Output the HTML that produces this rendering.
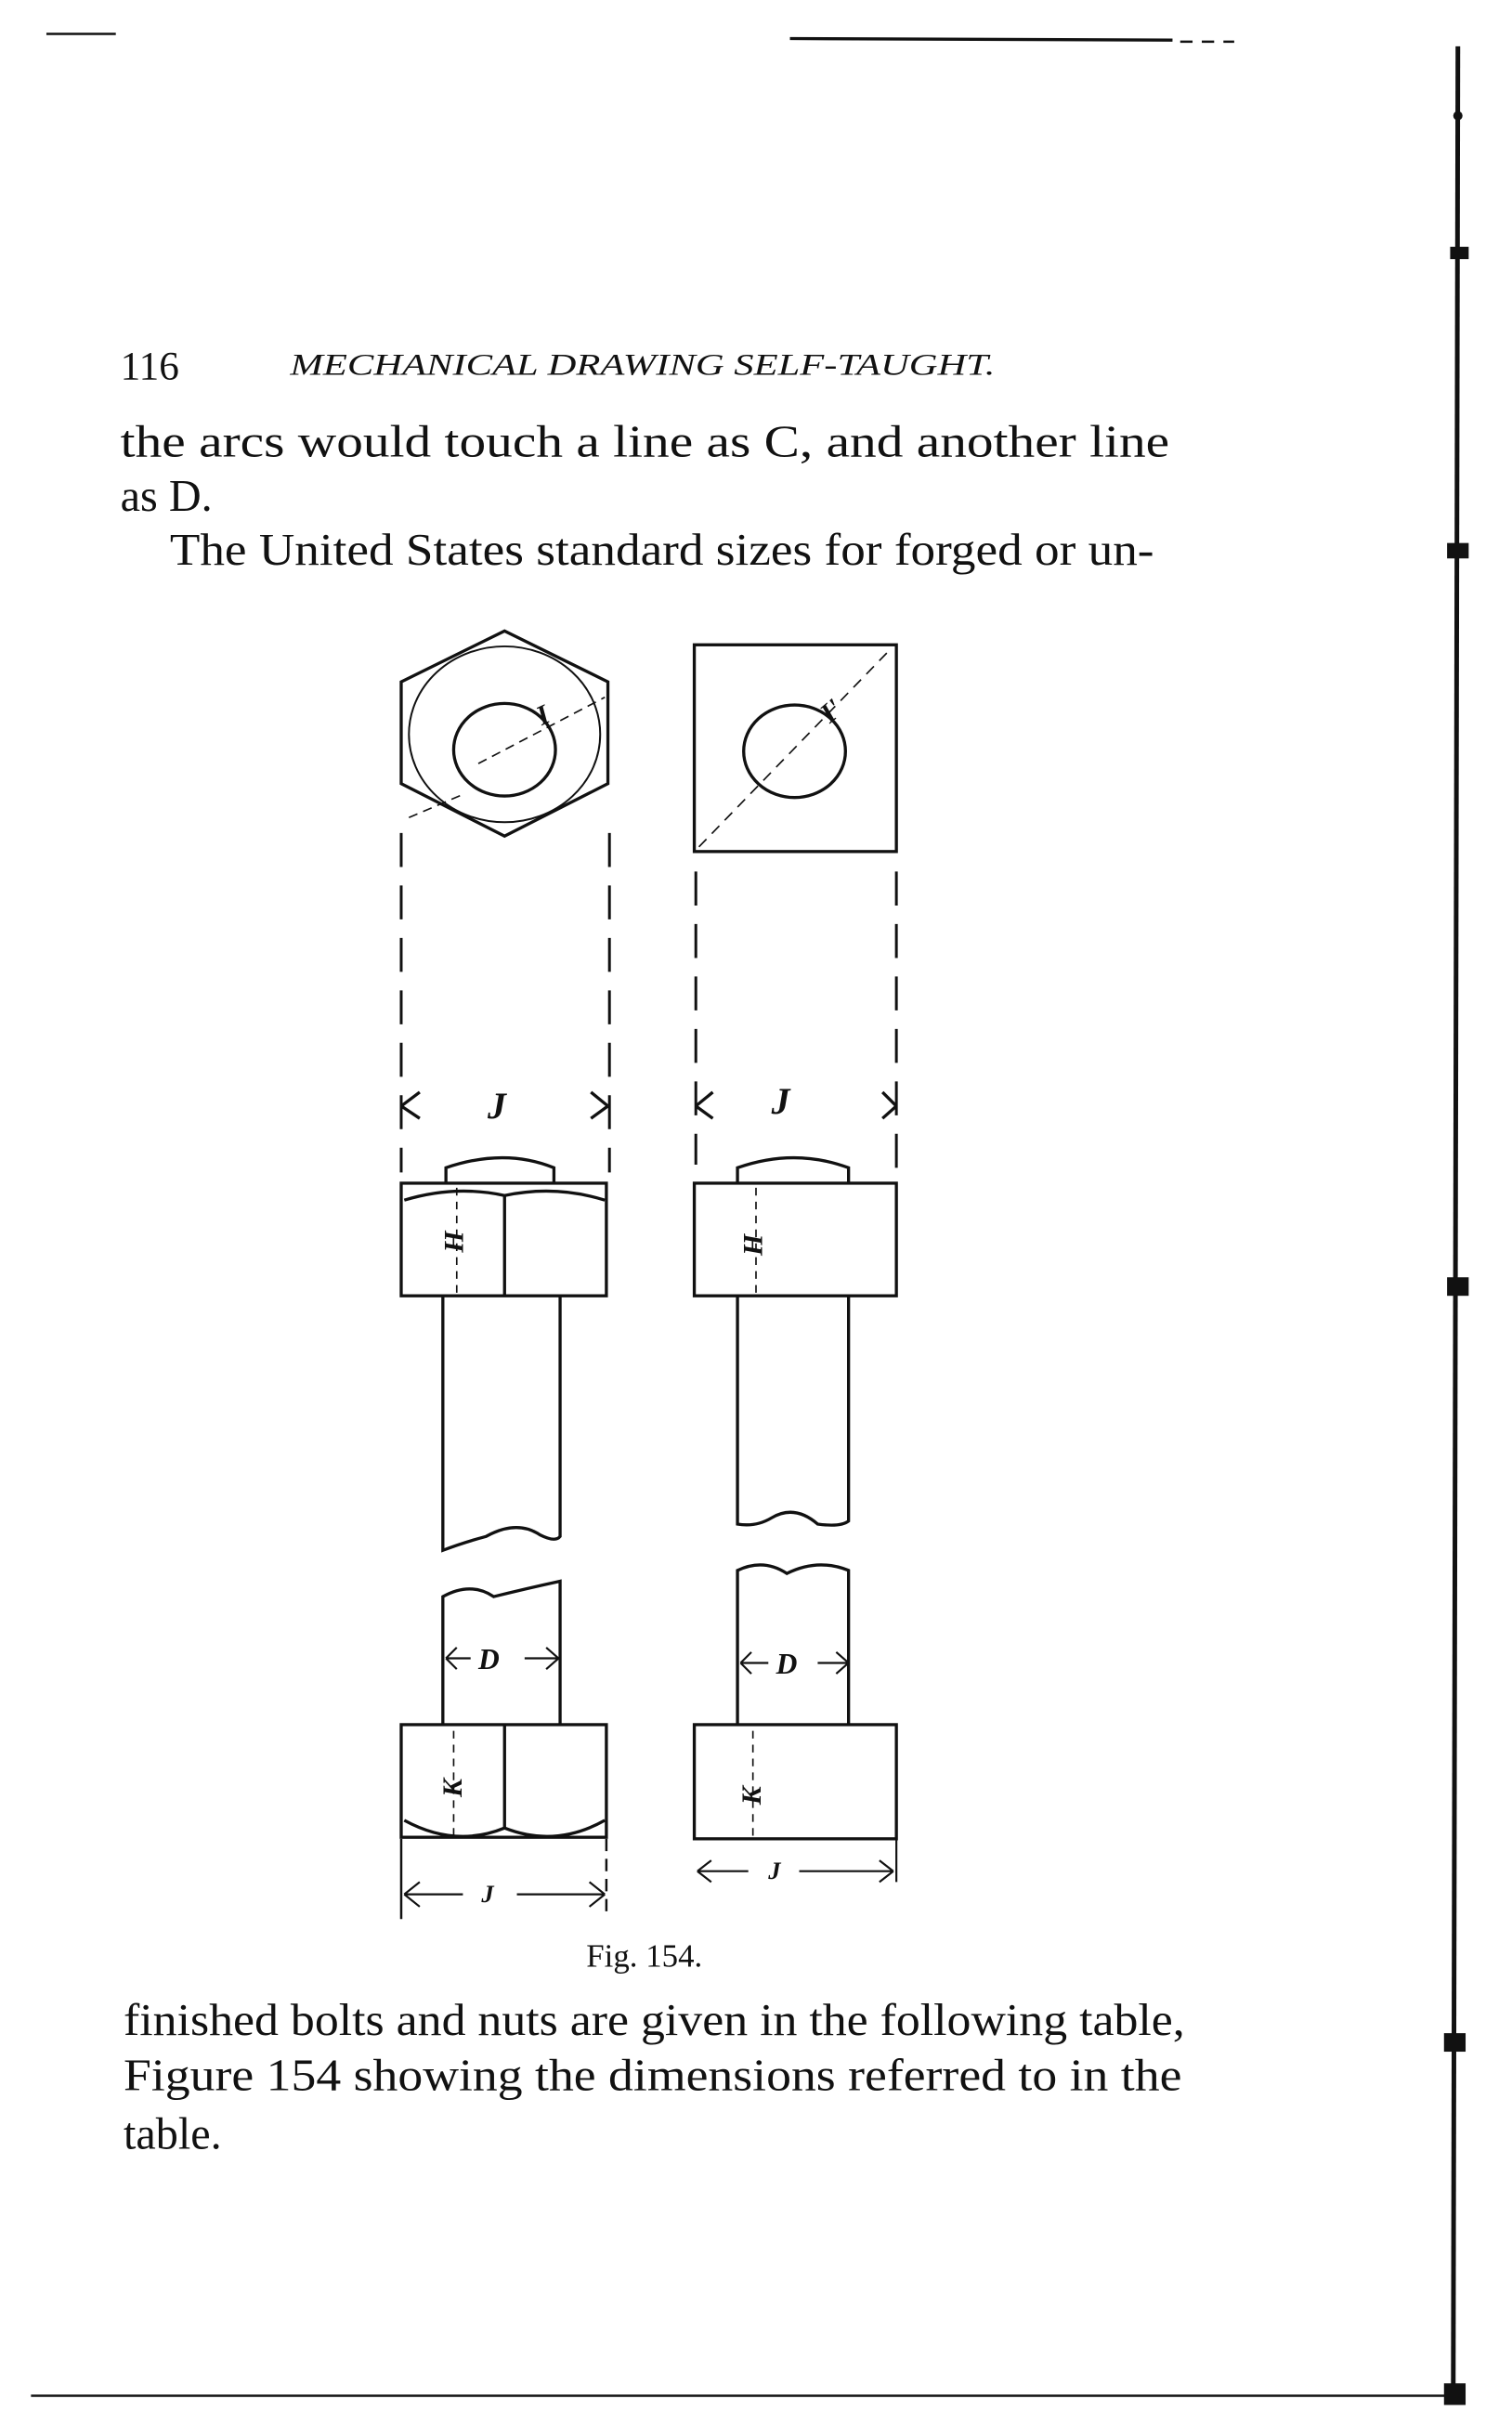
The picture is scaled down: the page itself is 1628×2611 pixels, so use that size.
<!DOCTYPE html>
<html><head><meta charset="utf-8"><style>
html,body{margin:0;padding:0;background:#fff;}
svg{display:block;}
text{font-family:"Liberation Serif",serif;fill:#111;}
</style></head><body>
<svg width="1628" height="2611" viewBox="0 0 980 1572" xmlns="http://www.w3.org/2000/svg">
<g stroke="#111" fill="none" stroke-width="1.5">
<line x1="30" y1="22" x2="75" y2="22"/>
<line x1="512" y1="25" x2="760" y2="26" stroke-width="2"/>
<line x1="765" y1="27" x2="800" y2="27" stroke-dasharray="8 6"/>
<line x1="945" y1="30" x2="942" y2="1555" stroke-width="3"/>
<line x1="20" y1="1553" x2="940" y2="1553"/>
</g>
<g fill="#111"><rect x="940" y="160" width="12" height="8"/><rect x="938" y="352" width="14" height="10"/><rect x="938" y="828" width="14" height="12"/><rect x="936" y="1318" width="14" height="12"/><rect x="936" y="1545" width="14" height="14"/><circle cx="945" cy="75" r="3"/></g>

<text x="78" y="246" font-size="26">116</text>
<text x="188" y="243" font-size="20" font-style="italic" textLength="457" lengthAdjust="spacingAndGlyphs">MECHANICAL DRAWING SELF-TAUGHT.</text>
<text x="78" y="296" font-size="29" textLength="680" lengthAdjust="spacingAndGlyphs">the arcs would touch a line as C, and another line</text>
<text x="78" y="331" font-size="29">as D.</text>
<text x="110" y="366" font-size="29" textLength="638" lengthAdjust="spacingAndGlyphs">The United States standard sizes for forged or un-</text>
<text x="380" y="1275" font-size="21">Fig. 154.</text>
<text x="80" y="1319" font-size="29" textLength="688" lengthAdjust="spacingAndGlyphs">finished bolts and nuts are given in the following table,</text>
<text x="80" y="1355" font-size="29" textLength="686" lengthAdjust="spacingAndGlyphs">Figure 154 showing the dimensions referred to in the</text>
<text x="80" y="1393" font-size="29">table.</text>

<g stroke="#111" fill="none" stroke-width="2">
<polygon points="327,409 394,442 394,508 327,542 260,508 260,442"/>
<ellipse cx="327" cy="476" rx="62" ry="57" stroke-width="1.2"/>
<ellipse cx="327" cy="486" rx="33" ry="30"/>
<line x1="310" y1="495" x2="392" y2="452" stroke-width="1" stroke-dasharray="6 4"/>
<line x1="265" y1="530" x2="300" y2="515" stroke-width="1" stroke-dasharray="6 4"/>
<rect x="450" y="418" width="131" height="134"/>
<ellipse cx="515" cy="487" rx="33" ry="30"/>
<line x1="453" y1="549" x2="578" y2="420" stroke-width="1" stroke-dasharray="7 5"/>
<g stroke-dasharray="22 12" stroke-width="1.8">
<line x1="260" y1="540" x2="260" y2="760"/><line x1="395" y1="540" x2="395" y2="760"/>
<line x1="451" y1="565" x2="451" y2="755"/><line x1="581" y1="565" x2="581" y2="760"/>
</g>
<path d="M260 717 L272 708 M260 717 L272 725"/><path d="M394 717 L383 708 M394 717 L383 725"/>
<path d="M451 717 L462 708 M451 717 L462 725"/><path d="M581 717 L572 708 M581 717 L572 725"/>
<path d="M289 767 V757 Q327 744 359 757 V767"/>
<rect x="260" y="767" width="133" height="73"/>
<path d="M262 778 Q295 768 327 775 Q360 768 392 778"/>
<line x1="327" y1="775" x2="327" y2="840"/>
<line x1="296" y1="770" x2="296" y2="838" stroke-width="1" stroke-dasharray="5 4"/>
<path d="M478 767 V757 Q515 744 550 757 V767"/>
<rect x="450" y="767" width="131" height="73"/>
<line x1="490" y1="770" x2="490" y2="838" stroke-width="1" stroke-dasharray="5 4"/>
<path d="M287 840 V1005 Q300 1000 315 996 Q335 985 350 995 Q360 1000 363 996 V840"/>
<path d="M478 840 V988 Q490 990 500 984 Q515 975 530 988 Q545 990 550 986 V840"/>
<path d="M287 1118 V1035 Q305 1025 320 1035 Q340 1030 363 1025 V1118"/>
<rect x="260" y="1118" width="133" height="73"/>
<path d="M262 1180 Q295 1198 327 1185 Q360 1198 392 1180"/>
<line x1="327" y1="1118" x2="327" y2="1186"/>
<line x1="294" y1="1122" x2="294" y2="1190" stroke-width="1" stroke-dasharray="5 4"/>
<path d="M289 1075 H305 M340 1075 H362 M362 1075 L354 1068 M362 1075 L354 1082 M289 1075 L296 1068 M289 1075 L296 1082" stroke-width="1.3"/>
<path d="M478 1118 V1018 Q495 1010 510 1020 Q530 1010 550 1018 V1118"/>
<rect x="450" y="1118" width="131" height="74"/>
<line x1="488" y1="1122" x2="488" y2="1190" stroke-width="1" stroke-dasharray="5 4"/>
<path d="M480 1078 H498 M530 1078 H550 M550 1078 L542 1071 M550 1078 L542 1085 M480 1078 L487 1071 M480 1078 L487 1085" stroke-width="1.3"/>
<line x1="260" y1="1192" x2="260" y2="1244" stroke-width="1.5"/>
<line x1="393" y1="1192" x2="393" y2="1244" stroke-width="1.5" stroke-dasharray="8 5"/>
<path d="M262 1228 H300 M335 1228 H392 M262 1228 L272 1220 M262 1228 L272 1236 M392 1228 L382 1220 M392 1228 L382 1236" stroke-width="1.3"/>
<path d="M452 1213 H485 M518 1213 H579 M452 1213 L461 1206 M452 1213 L461 1220 M579 1213 L570 1206 M579 1213 L570 1220" stroke-width="1.3"/>
<line x1="581" y1="1192" x2="581" y2="1220" stroke-width="1.3"/>
</g>
<g font-style="italic" font-weight="bold">
<text x="316" y="725" font-size="24">J</text>
<text x="500" y="722" font-size="24">J</text>
<text x="348" y="468" font-size="18" transform="rotate(-25 355 462)">I</text>
<text x="532" y="467" font-size="18" transform="rotate(-40 538 460)">I'</text>
<text x="0" y="0" font-size="18" transform="translate(300 812) rotate(-90)">H</text>
<text x="0" y="0" font-size="18" transform="translate(494 814) rotate(-90)">H</text>
<text x="0" y="0" font-size="18" transform="translate(299 1165) rotate(-90)">K</text>
<text x="0" y="0" font-size="18" transform="translate(493 1170) rotate(-90)">K</text>
<text x="310" y="1082" font-size="19">D</text>
<text x="503" y="1085" font-size="19">D</text>
<text x="312" y="1233" font-size="16">J</text>
<text x="498" y="1218" font-size="16">J</text>
</g>
</svg>
</body></html>
